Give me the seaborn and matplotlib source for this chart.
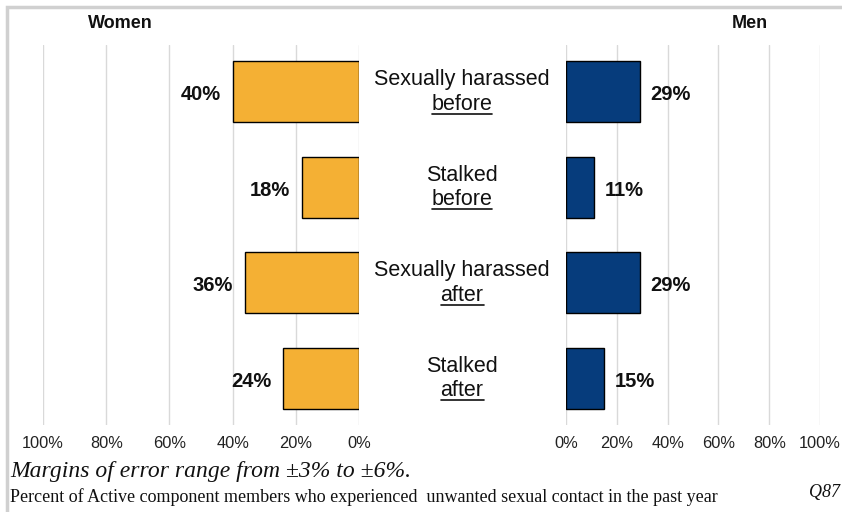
import matplotlib
matplotlib.use("Agg")
import matplotlib.pyplot as plt
import seaborn as sns
import pandas as pd
from matplotlib.patches import Rectangle

categories = ["Sexually harassed|before", "Stalked|before", "Sexually harassed|after", "Stalked|after"]
women = [40, 18, 36, 24]
men = [29, 11, 29, 15]
tick_vals = [0, 20, 40, 60, 80, 100]
tick_labels = ["0%", "20%", "40%", "60%", "80%", "100%"]

sns.set_theme(style="white")
plt.rcParams['font.family'] = ['Liberation Sans', 'DejaVu Sans']

df = pd.DataFrame({"cat": categories, "women": women, "men": men})

fig = plt.figure(figsize=(8.42, 5.12), dpi=100)
fig.patch.set_facecolor("white")
# light frame
fig.patches.append(Rectangle((0.008, -0.1), 1.2, 1.087, transform=fig.transFigure,
                             fill=False, edgecolor="#d0d0d0", linewidth=2.5, zorder=0))

axL = fig.add_axes([0.0511, 0.170, 0.3753, 0.742])
axR = fig.add_axes([0.6722, 0.170, 0.3017, 0.742])

sns.barplot(data=df, x="women", y="cat", ax=axL, color="#F4B034", edgecolor="black",
            linewidth=1.0, width=0.64, saturation=1, orient="h")
sns.barplot(data=df, x="men", y="cat", ax=axR, color="#063C7C", edgecolor="black",
            linewidth=1.0, width=0.64, saturation=1, orient="h")

for ax, vals, side in [(axL, women, "L"), (axR, men, "R")]:
    ax.set_xlim(0, 100)
    if side == "L":
        ax.invert_xaxis()
    ax.set_ylim(3.49, -0.49)
    ax.set_xticks(tick_vals)
    ax.set_xticklabels(tick_labels, fontsize=11.8, color="#222222")
    ax.tick_params(axis="x", length=0, pad=8)
    ax.set_yticks([])
    ax.set_xlabel("")
    ax.set_ylabel("")
    for s in ax.spines.values():
        s.set_visible(False)
    ax.grid(axis="x", color="#d9d9d9", linewidth=1.0)
    ax.set_axisbelow(True)
    ax.patch.set_alpha(0)
    for i, v in enumerate(vals):
        if side == "L":
            ax.text(v + 3.8, i + 0.03, f"{v}%", ha="right", va="center", fontsize=14.5,
                    fontweight="bold", color="#111111")
        else:
            ax.text(v + 4.2, i + 0.03, f"{v}%", ha="left", va="center", fontsize=14.5,
                    fontweight="bold", color="#111111")

fig.text(120 / 842, 1 - 24 / 512, "Women", ha="center", va="center", fontsize=13,
         fontweight="bold", color="#111111")
fig.text(750 / 842, 1 - 24 / 512, "Men", ha="center", va="center", fontsize=13,
         fontweight="bold", color="#111111")

# Center labels
fig.canvas.draw()
renderer = fig.canvas.get_renderer()
cx = 462 / 842
for i, c in enumerate(categories):
    top, bot = c.split("|")
    ydisp = axL.transData.transform((0, i))[1]
    yfig = ydisp / fig.bbox.height
    fig.text(cx, yfig + 12 / 512, top, ha="center", va="center", fontsize=15.5,
             color="#111111")
    t = fig.text(cx, yfig - 12.5 / 512, bot, ha="center", va="center", fontsize=15.5,
                 color="#111111")
    bb = t.get_window_extent(renderer)
    yl = (bb.y0 + 1) / fig.bbox.height
    fig.add_artist(plt.Line2D([bb.x0 / fig.bbox.width, bb.x1 / fig.bbox.width], [yl, yl],
                              transform=fig.transFigure, color="#111111", linewidth=1.2))

fig.text(10 / 842, 1 - 472 / 512, "Margins of error range from ±3% to ±6%.", ha="left",
         va="center", fontsize=17, style="italic", family="Liberation Serif", color="#111111")
fig.text(10 / 842, 1 - 497 / 512,
         "Percent of Active component members who experienced  unwanted sexual contact in the past year",
         ha="left", va="center", fontsize=13, family="Liberation Serif", color="#111111")
fig.text(840 / 842, 1 - 493 / 512, "Q87", ha="right", va="center", fontsize=13,
         style="italic", family="Liberation Serif", color="#111111")

fig.savefig("out.png", dpi=100)
